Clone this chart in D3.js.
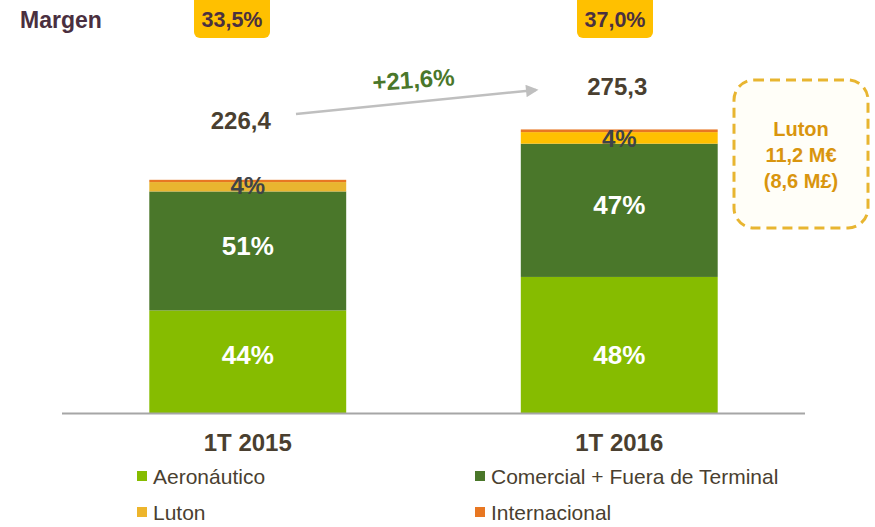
<!DOCTYPE html>
<html>
<head>
<meta charset="utf-8">
<script src="https://cdn.jsdelivr.net/npm/d3@7"></script>
<style>
  body { margin: 0; background: #fff; }
  svg { display: block; font-family: "Liberation Sans", Arial, sans-serif; }
</style>
</head>
<body>
<div id="chart"></div>
<script>
// data (M€)
var periods = ["1T 2015", "1T 2016"];
var segments = ["Aeronáutico", "Comercial + Fuera de Terminal", "Luton", "Internacional"];
var aeronautico = [99.6, 132.1];
var comercial = [115.5, 129.4];
var luton = [9.1, 11.2];
var internacional = [2.2, 2.6];
var totals = [226.4, 275.3];
var totalLabels = ["226,4", "275,3"];
var shareLabels = [["44%", "51%", "4%", ""], ["48%", "47%", "4%", ""]];
var margins = ["33,5%", "37,0%"];
var growthLabel = "+21,6%";
var lutonNote = ["Luton", "11,2 M€", "(8,6 M£)"];

var colors = ["#86BC00", "#4A772A", "#EDB52C", "#E87722"];
var lutonBar = ["#E9B52F", "#FFC000"];
var dark = "#4A3F30";

var width = 875, height = 527;
var svg = d3.select("#chart").append("svg")
    .attr("width", width)
    .attr("height", height);

var x = d3.scaleBand().domain(periods).range([62, 805])
    .paddingInner(0.47).paddingOuter(0.235);
var y = d3.scaleLinear().domain([0, 300]).range([413, 104]);

// stack the segments
var rows = periods.map(function (p, i) {
    return { period: p, a: aeronautico[i], c: comercial[i], l: luton[i], n: internacional[i], idx: i };
});
var stack = d3.stack().keys(["a", "c", "l", "n"]);
var series = stack(rows);

var bars = svg.append("g");
series.forEach(function (s, k) {
    bars.selectAll(".s" + k).data(s).enter().append("rect")
        .attr("x", function (d) { return x(d.data.period); })
        .attr("width", x.bandwidth())
        .attr("y", function (d) { return y(d[1]); })
        .attr("height", function (d) { return y(d[0]) - y(d[1]); })
        .attr("fill", function (d) { return k == 2 ? lutonBar[d.data.idx] : colors[k]; });
});

// share labels inside segments
series.forEach(function (s, k) {
    if (k > 2) return;
    bars.selectAll(".l" + k).data(s).enter().append("text")
        .attr("x", function (d) { return x(d.data.period) + x.bandwidth() / 2; })
        .attr("y", function (d) {
            if (k == 0) return 364;
            if (k == 2) return y(d[0]) + 3;
            return (y(d[0]) + y(d[1])) / 2 + 4;
        })
        .attr("text-anchor", "middle")
        .attr("font-size", k == 2 ? 24 : 26)
        .attr("font-weight", "bold")
        .attr("fill", k == 2 ? "#3F4348" : "#fff")
        .text(function (d) { return shareLabels[d.data.idx][k]; });
});

// axis line
svg.append("line")
    .attr("x1", 62).attr("x2", 805)
    .attr("y1", y(0) + 0.5).attr("y2", y(0) + 0.5)
    .attr("stroke", "#A6A6A6").attr("stroke-width", 2);

svg.selectAll(".cat").data(periods).enter().append("text")
    .attr("x", function (d) { return x(d) + x.bandwidth() / 2; })
    .attr("y", 451)
    .attr("text-anchor", "middle")
    .attr("font-size", 24)
    .attr("font-weight", "bold")
    .attr("fill", dark)
    .text(function (d) { return d; });

// totals above bars
var totalDx = [-7, -2], totalDy = [-51, -34];
svg.selectAll(".tot").data(totals).enter().append("text")
    .attr("x", function (d, i) { return x(periods[i]) + x.bandwidth() / 2 + totalDx[i]; })
    .attr("y", function (d, i) { return y(d) + totalDy[i]; })
    .attr("text-anchor", "middle")
    .attr("font-size", 24)
    .attr("font-weight", "bold")
    .attr("fill", dark)
    .text(function (d, i) { return totalLabels[i]; });

// growth arrow
svg.append("defs").append("marker")
    .attr("id", "head")
    .attr("viewBox", "0 0 10 10")
    .attr("refX", 8).attr("refY", 5)
    .attr("markerWidth", 6).attr("markerHeight", 5)
    .attr("orient", "auto")
    .append("path").attr("d", "M0,0 L10,5 L0,10 z").attr("fill", "#BFBFBF");

svg.append("line")
    .attr("x1", 296).attr("y1", 114)
    .attr("x2", 536).attr("y2", 90)
    .attr("stroke", "#BFBFBF").attr("stroke-width", 2.5)
    .attr("marker-end", "url(#head)");

svg.append("text")
    .attr("transform", "translate(414,88) rotate(-4)")
    .attr("text-anchor", "middle")
    .attr("font-size", 24)
    .attr("font-weight", "bold")
    .attr("fill", "#4A772A")
    .text(growthLabel);

// title + margin badges
svg.append("text")
    .attr("x", 20).attr("y", 28)
    .attr("font-size", 23)
    .attr("font-weight", "bold")
    .attr("fill", "#4A2F40")
    .text("Margen");

var badgeX = [194, 577];
margins.forEach(function (m, i) {
    svg.append("rect")
        .attr("x", badgeX[i]).attr("y", -6)
        .attr("width", 76).attr("height", 44)
        .attr("rx", 6)
        .attr("fill", "#FFC000");
    svg.append("text")
        .attr("x", badgeX[i] + 38).attr("y", 27)
        .attr("text-anchor", "middle")
        .attr("font-size", 21.5)
        .attr("font-weight", "bold")
        .attr("fill", "#4A3040")
        .text(m);
});

// Luton note box
svg.append("rect")
    .attr("x", 734).attr("y", 80)
    .attr("width", 134).attr("height", 148)
    .attr("rx", 20)
    .attr("fill", "#FFFEF8")
    .attr("stroke", "#E8B530")
    .attr("stroke-width", 3)
    .attr("stroke-dasharray", "10,6");

svg.selectAll(".note").data(lutonNote).enter().append("text")
    .attr("x", 801)
    .attr("y", function (d, i) { return 136 + i * 26; })
    .attr("text-anchor", "middle")
    .attr("font-size", 20)
    .attr("font-weight", "bold")
    .attr("fill", "#D9950E")
    .text(function (d) { return d; });

// legend
var legX = [137, 475], legY = [471, 507];
segments.forEach(function (s, i) {
    var lx = legX[i % 2], ly = legY[Math.floor(i / 2)];
    svg.append("rect")
        .attr("x", lx).attr("y", ly)
        .attr("width", 10).attr("height", 10)
        .attr("fill", colors[i]);
    svg.append("text")
        .attr("x", lx + 16).attr("y", ly + 12.5)
        .attr("font-size", 21)
        .attr("fill", dark)
        .text(s);
});
</script>
</body>
</html>
